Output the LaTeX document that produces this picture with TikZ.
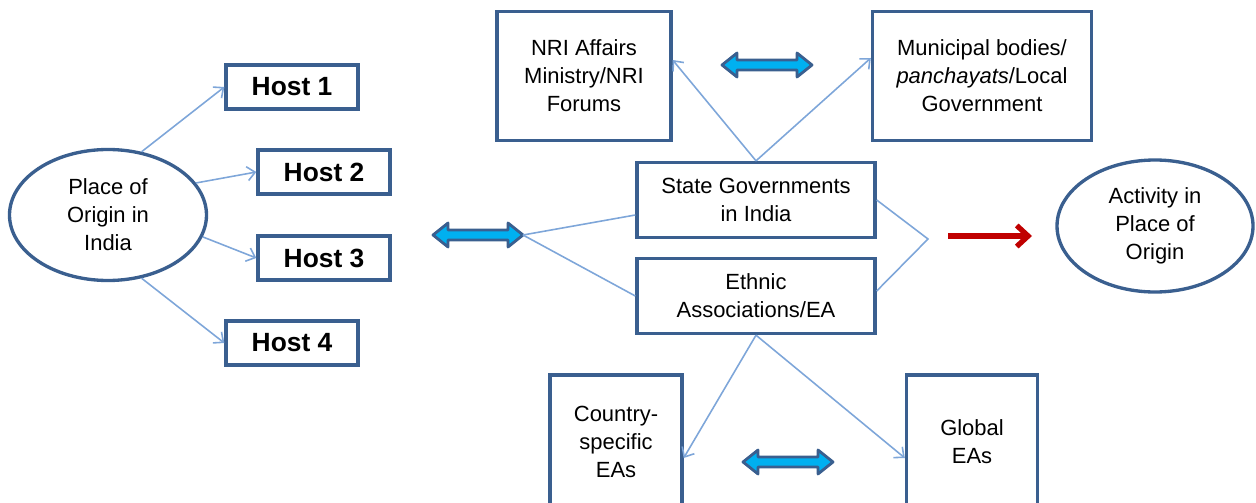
\documentclass[tikz,border=0pt]{standalone}
\usepackage{fontspec}
\setmainfont{Liberation Sans}
\usetikzlibrary{arrows.meta,shapes.geometric}
\definecolor{EdgeBlue}  {HTML}{3A5F8F}
\definecolor{LinkBlue}  {HTML}{7EA6D9}
\definecolor{ArrowCyan} {HTML}{00B0F0}
\definecolor{FlowRed}   {HTML}{C00000}

\tikzset{
  box/.style={draw=EdgeBlue,line width=1.9pt,fill=white,align=center,inner sep=2pt,
              font=\fontsize{12.5}{16}\selectfont},
  hostbox/.style={box,minimum width=26.4mm,minimum height=8.8mm,
                  font=\fontsize{15}{18}\selectfont\bfseries},
  place/.style={box,ellipse,minimum width=39.4mm,minimum height=26.2mm},
  link/.style={draw=LinkBlue,line width=0.9pt},
  linkarr/.style={link,-{Straight Barb[length=4.5pt,width=8pt]}},
  dblarr/.pic={
    \draw[draw=EdgeBlue,line width=1.6pt,fill=ArrowCyan,line join=round]
      (0,0) -- (15,-12) -- (15,-5) -- (75,-5) -- (75,-12) -- (90,0)
      -- (75,12) -- (75,5) -- (15,5) -- (15,12) -- cycle;
    \coordinate (-w) at (0,0);
    \coordinate (-e) at (90,0);
  }
}

\begin{document}
\begin{tikzpicture}[x=0.2mm,y=-0.2mm]
  \useasboundingbox (0,0) rectangle (1256,503);
  \clip (0,0) rectangle (1256,503);

  \node[place] (origin) at (108,215) {Place of\\Origin in\\India};
  \node[hostbox] (host1) at (292,87)  {Host 1};
  \node[hostbox] (host2) at (324,172) {Host 2};
  \node[hostbox] (host3) at (324,258) {Host 3};
  \node[hostbox] (host4) at (292,343) {Host 4};

  \node[box,minimum width=34.8mm,minimum height=25.8mm] (nri) at (584,76)
    {NRI Affairs\\Ministry/NRI\\Forums};
  \node[box,minimum width=43.8mm,minimum height=25.8mm] (munic) at (982,76)
    {Municipal bodies/\\\textit{panchayats}/Local\\Government};
  \node[box,minimum width=47.6mm,minimum height=15mm] (state) at (756,200)
    {State Governments\\in India};
  \node[box,minimum width=47.6mm,minimum height=15mm] (ethnic) at (756,296)
    {Ethnic\\Associations/EA};
  \node[box,minimum width=26.4mm,minimum height=26.8mm] (country) at (616,442)
    {Country-\\specific\\EAs};
  \node[box,minimum width=26.2mm,minimum height=26.8mm] (global) at (972,442)
    {Global\\EAs};
  \node[place,minimum width=39.2mm,minimum height=26.4mm] (activity) at (1155,226)
    {Activity in\\Place of\\Origin};

  \pic (lrarr)  at (433,235) {dblarr};
  \pic (toparr) at (722,65)  {dblarr};
  \pic (botarr) at (743,462) {dblarr};

  \draw[linkarr] (origin.62)  -- (host1.west);
  \draw[linkarr] (origin.20)  -- (host2.west);
  \draw[linkarr] (origin.-13) -- (host3.west);
  \draw[linkarr] (origin.-62) -- (host4.west);

  \draw[link] (lrarr-e) -- ([yshift=-3mm]state.west);
  \draw[link] (lrarr-e) -- (ethnic.west);

  \draw[linkarr] (state.north) -- ([yshift=3.2mm]nri.east);
  \draw[linkarr] (state.north) -- ([yshift=3.6mm]munic.west);

  \draw[linkarr] (ethnic.south) -- ([yshift=-3.2mm]country.east);
  \draw[linkarr] (ethnic.south) -- ([yshift=-3.2mm]global.west);

  \coordinate (join) at (928,239);
  \draw[link] (state.east) -- (join) -- ([yshift=1mm]ethnic.east);

  \coordinate (redfrom) at (948,236);
  \coordinate (redto)   at (1032,236);
  \draw[FlowRed,line width=3pt,-{Straight Barb[length=6.5pt,width=12pt]}] (redfrom) -- (redto);
\end{tikzpicture}
\end{document}
